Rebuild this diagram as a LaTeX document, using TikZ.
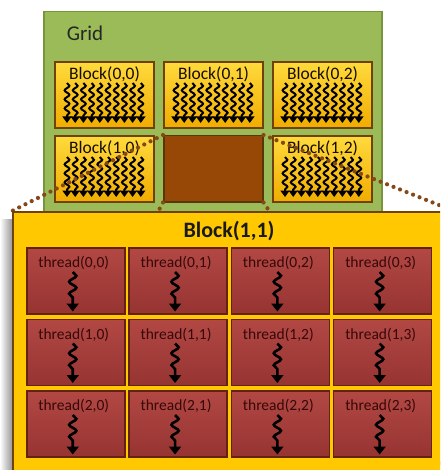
\documentclass[tikz,border=0pt]{standalone}
\usepackage{fontspec}
\setmainfont{Carlito}
\usetikzlibrary{arrows.meta,decorations.pathmorphing,calc}

\definecolor{gridgreen}{RGB}{155,187,89}
\definecolor{gridedge}{RGB}{120,148,62}
\definecolor{blkyellow}{RGB}{255,200,0}
\definecolor{blktop}{RGB}{255,218,60}
\definecolor{blkbot}{RGB}{240,172,0}
\definecolor{blkedge}{RGB}{112,66,10}
\definecolor{holebrown}{RGB}{152,72,6}
\definecolor{thrtop}{RGB}{178,72,68}
\definecolor{thrbot}{RGB}{150,52,50}
\definecolor{thredge}{RGB}{98,34,14}
\definecolor{thrtext}{RGB}{55,8,8}
\definecolor{dotbrown}{RGB}{135,72,24}

\tikzset{
  gridbox/.style={draw=gridedge, line width=1.5pt, fill=gridgreen, anchor=north west,
    minimum width=338pt, minimum height=210pt, inner sep=0pt},
  smallblk/.style={draw=blkedge, line width=2pt, top color=blktop, bottom color=blkbot,
    anchor=north west, minimum width=99pt, minimum height=66pt, inner sep=0pt},
  holeblk/.style={draw=blkedge!80!black, line width=1.5pt, fill=holebrown,
    anchor=north west, minimum width=99pt, minimum height=66pt, inner sep=0pt},
  bigblk/.style={draw=blkedge, line width=2pt, fill=blkyellow, anchor=north west,
    minimum width=440pt, minimum height=270pt, inner sep=0pt},
  thrcell/.style={draw=thredge, line width=1.5pt, top color=thrtop, bottom color=thrbot,
    anchor=north west, minimum width=98pt, minimum height=66pt, inner sep=0pt},
  blklbl/.style={font=\fontsize{17.5}{18}\selectfont, text=black!80!blkedge, inner sep=0pt},
  thrlbl/.style={font=\fontsize{15.5}{16}\selectfont, text=thrtext, inner sep=0pt},
  swav/.style={line width=2pt, -{Triangle[width=9pt,length=6.5pt]},
    decorate, decoration={snake, amplitude=2.4pt, segment length=9pt, post length=6pt}},
  thrarrow/.style={line width=2.6pt, -{Triangle[width=12pt,length=8pt]},
    decorate, decoration={snake, amplitude=3.6pt, segment length=12pt, post length=10pt}},
  zoomline/.style={dotbrown, line width=4.2pt, line cap=round, dash pattern=on 0pt off 7pt},
}

\begin{document}
\begin{tikzpicture}[x=1pt, y=-1pt]
  \useasboundingbox (0,0) rectangle (440,470);
  \clip (0,0) rectangle (440,470);

  % the grid of blocks
  \node[gridbox] (grid) at (43,11) {};
  \node[font=\fontsize{21}{22}\selectfont, text=black!85] (gridlbl) at (85,33) {Grid};

  \foreach \r in {0,1} {
    \foreach \c in {0,1,2} {
      \ifnum\r\c=11
        \node[holeblk] (b\r\c) at ({54+\c*109},{61+\r*74}) {};
      \else
        \node[smallblk] (b\r\c) at ({54+\c*109},{61+\r*74}) {};
        \node[blklbl, below] (bl\r\c) at ($(b\r\c.north)+(0,6)$) {Block(\r,\c)};
        % bundle of threads
        \foreach \k in {0,...,9}
          \draw[swav] ($(b\r\c.north west)+(13+\k*8.2,22)$) -- ($(b\r\c.north west)+(13+\k*8.2,62)$);
      \fi
    }
  }

  % zoom lines from the block to its blow-up
  \node[bigblk, draw=none, fill=none] (blkpos) at (12,211) {};
  \draw[zoomline] (b11.north west) -- (blkpos.north west);
  \draw[zoomline] (b11.north east) -- (blkpos.north east);
  \draw[zoomline] (b11.south west) -- (blkpos.south west);
  \draw[zoomline] (b11.south east) -- (blkpos.south east);

  % Block(1,1) blown up
  \shade[left color=white, right color=black!40] (0,219) rectangle (12,480);
  \node[bigblk] (blk) at (12,211) {};
  \node[font=\bfseries\fontsize{22}{24}\selectfont, text=black!90] (blktitle) at (229,231) {Block(1,1)};

  \foreach \r in {0,1,2} {
    \foreach \c in {0,...,3} {
      \node[thrcell] (t\r\c) at ({26+\c*102.3},{247+\r*71.5}) {};
      \node[thrlbl, below] (tl\r\c) at ($(t\r\c.north)+(-2,9)$) {thread(\r,\c)};
      \draw[thrarrow] ($(t\r\c.north)+(-3,25)$) -- ($(t\r\c.south)+(-3,-3)$);
    }
  }
\end{tikzpicture}
\end{document}
